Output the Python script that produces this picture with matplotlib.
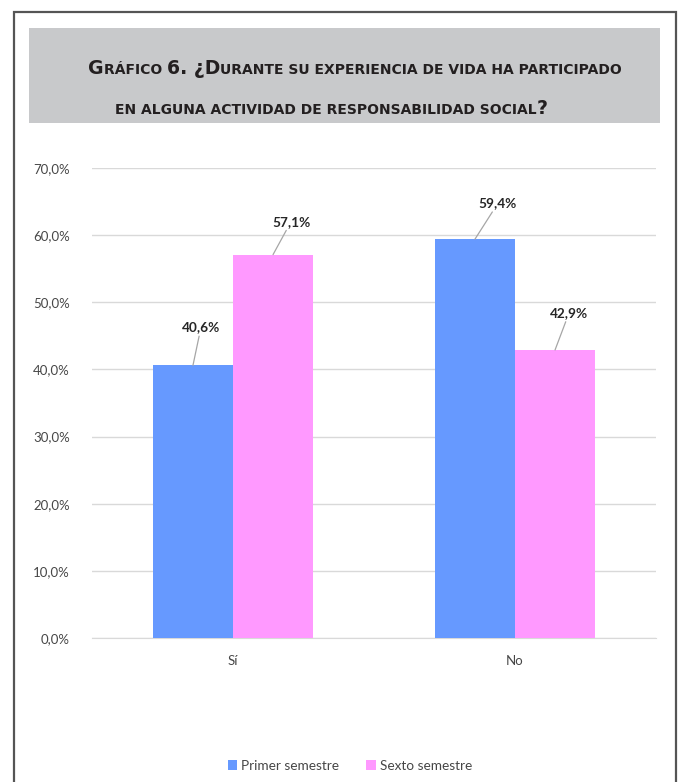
import matplotlib
matplotlib.use('Agg')
import numpy as np
import matplotlib.pyplot as plt
from matplotlib.patches import Rectangle, Patch

# datos del gráfico
categorias = ['Sí', 'No']
series = ['Primer semestre', 'Sexto semestre']
primer = [40.6, 59.4]
sexto = [57.1, 42.9]
yticks = [0, 10, 20, 30, 40, 50, 60, 70]

colores = ['#6699FF', '#FF99FF']
W, H = 683, 782

fig = plt.figure(figsize=(W / 100, H / 100), dpi=100)
fig.patch.set_facecolor('white')


def px(x, y):
    # pixeles (origen arriba-izquierda) -> coordenadas de figura
    return x / W, 1 - y / H


# marco exterior (sigue por debajo del borde inferior)
fig.patches.append(Rectangle(px(14, 800), 662 / W, 788 / H, transform=fig.transFigure,
                             fill=False, edgecolor='#555555', linewidth=1.6, zorder=0))
# caja gris del título
fig.patches.append(Rectangle(px(29, 123), 631 / W, 95 / H, transform=fig.transFigure,
                             facecolor='#C8C9CB', edgecolor='none', zorder=0))

# ---------------------------------------------------------
# Título en versalitas (trozos de distinto tamaño)
# ---------------------------------------------------------
GRANDE, PEQ = 13.6, 10.0
fuente_titulo = 'DejaVu Sans'
linea1 = [('G', GRANDE), ('RÁFICO ', PEQ), ('6. ¿D', GRANDE),
          ('URANTE SU EXPERIENCIA DE VIDA HA PARTICIPADO', PEQ)]
linea2 = [('EN ALGUNA ACTIVIDAD DE RESPONSABILIDAD SOCIAL', PEQ), ('?', GRANDE)]

renderer = fig.canvas.get_renderer()


def versalitas(trozos, centro_x, base_y):
    textos = []
    ancho = 0
    for s, tam in trozos:
        t = fig.text(0, 0, s, fontsize=tam, fontweight='bold', family=fuente_titulo,
                     color='#231F20', va='baseline', ha='left')
        w = t.get_window_extent(renderer).width
        textos.append((t, w))
        ancho += w
    x = centro_x - ancho / 2
    for t, w in textos:
        t.set_position(px(x, base_y))
        x += w


versalitas(linea1, 355, 74)
versalitas(linea2, 331, 114)

# ---------------------------------------------------------
# Barras
# ---------------------------------------------------------
ax = fig.add_axes([92 / W, 1 - 638 / H, 564 / W, 470 / H])
x = np.arange(len(categorias))
ancho_barra = 0.284
b1 = ax.bar(x - ancho_barra / 2, primer, ancho_barra, color=colores[0], zorder=3)
b2 = ax.bar(x + ancho_barra / 2, sexto, ancho_barra, color=colores[1], zorder=3)

ax.set_xlim(-0.5, 1.5)
ax.set_ylim(0, 70)
ax.set_yticks(yticks)
ax.set_yticklabels([f'{v:.1f}%'.replace('.', ',') for v in yticks])
ax.set_xticks(x)
ax.set_xticklabels(categorias)
ax.grid(axis='y', color='#D9D9D9', linewidth=1, zorder=0)
for lado in ['top', 'right', 'left']:
    ax.spines[lado].set_visible(False)
ax.spines['bottom'].set_color('#D9D9D9')
ax.tick_params(axis='both', length=0, labelsize=9.5, labelcolor='#474747')
ax.tick_params(axis='y', pad=16)
ax.tick_params(axis='x', pad=12)
for lab in ax.get_xticklabels() + ax.get_yticklabels():
    lab.set_family('Lato')

# etiquetas con línea guía
desplaz = [[(8, 38), (18, 33)], [(23, 36), (14, 37)]]
for j, barras in enumerate([b1, b2]):
    for i, r in enumerate(barras):
        v = r.get_height()
        dx, dy = desplaz[i][j]
        ax.annotate(f'{v:.1f}%'.replace('.', ','), xy=(r.get_x() + r.get_width() / 2, v),
                    xytext=(dx, dy), textcoords='offset pixels', ha='center', va='center',
                    fontsize=9.8, fontweight='bold', family='Lato', color='#262626',
                    arrowprops=dict(arrowstyle='-', color='#A6A6A6', lw=0.9,
                                    shrinkA=0, shrinkB=0))

# leyenda
manejadores = [Patch(facecolor=c, edgecolor='none') for c in colores]
fig.legend(manejadores, series, loc='center', bbox_to_anchor=px(350, 766), ncol=2,
           frameon=False, handlelength=0.7, handleheight=0.7, handletextpad=0.3,
           columnspacing=2.0, prop={'family': 'Lato', 'size': 9.8},
           labelcolor='#474747')

fig.savefig('out.png', dpi=100)
